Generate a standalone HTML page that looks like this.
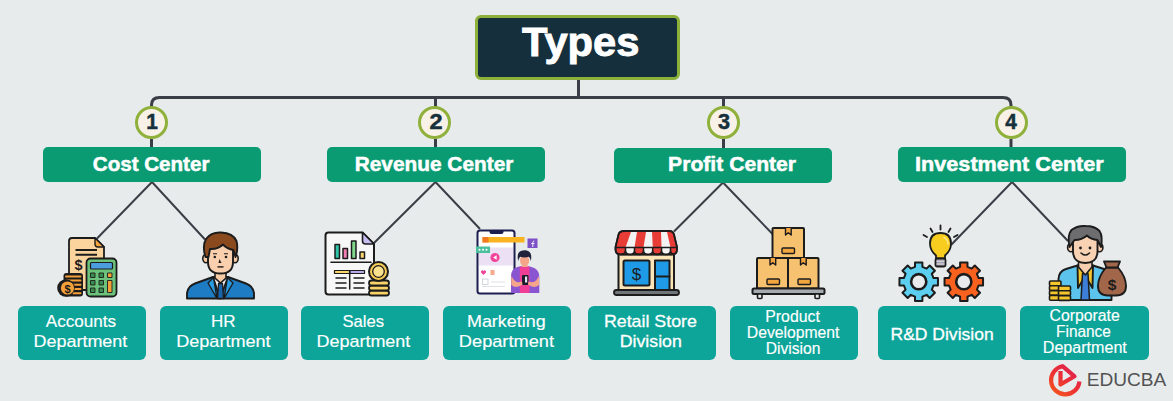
<!DOCTYPE html>
<html><head><meta charset="utf-8">
<style>
html,body{margin:0;padding:0;}
body{width:1173px;height:401px;overflow:hidden;background:#e8ebeb;position:relative;font-family:"Liberation Sans",sans-serif;}
.t{position:absolute;width:600px;text-align:center;white-space:nowrap;}
.t span{display:inline-block;transform-origin:50% 50%;}
#title{position:absolute;left:475px;top:15px;width:199px;height:59px;border:3px solid #8db03a;border-radius:6px;background:#15303c;}
.circ{position:absolute;width:27px;height:27px;border:3px solid #8fb13b;border-radius:50%;background:#f8f1e7;}
.bar{position:absolute;top:147px;height:35px;width:218px;background:#0b9b73;border-radius:5px;}
.box{position:absolute;top:306px;height:54px;width:128px;background:#0da59a;border-radius:6px;}
svg{position:absolute;left:0;top:0;overflow:visible;}

</style></head>
<body>
<svg width="1173" height="401" viewBox="0 0 1173 401">
  <g fill="none" stroke="#3a3e46" stroke-width="3">
    <line x1="578.5" y1="79" x2="578.5" y2="98"/>
    <path d="M151.5 107 V105 Q151.5 97.5 159.5 97.5 H1003 Q1011 97.5 1011 105 V107"/>
    <line x1="435.5" y1="97" x2="435.5" y2="107"/>
    <line x1="723.5" y1="97" x2="723.5" y2="107"/>
    <line x1="151.5" y1="139" x2="151.5" y2="148"/>
    <line x1="435.5" y1="139" x2="435.5" y2="148"/>
    <line x1="723.5" y1="139" x2="723.5" y2="149"/>
    <line x1="1011" y1="139" x2="1011" y2="148"/>
  </g>
  <g fill="none" stroke="#3a3e46" stroke-width="2">
    <polyline points="97,238.5 152,182 205,239.5"/>
    <polyline points="374,243 435.5,182 480,229"/>
    <polyline points="674,231.5 723,182.5 772.5,234"/>
    <polyline points="951,245 1012,182 1068,241"/>
  </g>
</svg>
<div id="title"></div>
<div class="circ" style="left:135px;top:106px;"></div>
<div class="circ" style="left:418px;top:106px;"></div>
<div class="circ" style="left:706.5px;top:106px;"></div>
<div class="circ" style="left:994.5px;top:106px;"></div>
<div class="bar" style="left:43px;"></div>
<div class="bar" style="left:327px;"></div>
<div class="bar" style="left:614px;top:148px;"></div>
<div class="bar" style="left:898px;width:228px;"></div>
<div class="box" style="left:18px;"></div>
<div class="box" style="left:160px;"></div>
<div class="box" style="left:301px;"></div>
<div class="box" style="left:443px;"></div>
<div class="box" style="left:588px;"></div>
<div class="box" style="left:730px;"></div>
<div class="box" style="left:878px;"></div>
<div class="box" style="left:1020px;width:129px;"></div>

<svg width="1173" height="401" viewBox="0 0 1173 401" style="pointer-events:none">
 <g stroke="#1c1c1c" stroke-linejoin="round">
  <path d="M72 238 H95 L104 247 V290 H69 V241 Q69 238 72 238 Z" fill="#fbd39c" stroke-width="1.8"/>
  <path d="M95 238 V244 Q95 247 98 247 H104 Z" fill="#f4a53d" stroke-width="1.4"/>
  <path d="M75.5 250 H97 M75.5 254.8 H97" stroke-width="2"/>
 </g>
 <text x="78.5" y="269.5" font-family="Liberation Sans" font-weight="bold" font-size="14.5" fill="#1c1c1c" text-anchor="middle">$</text>
 <g stroke="#1c1c1c" stroke-linejoin="round">
  <rect x="86.5" y="258.5" width="30" height="38" rx="4" fill="#6cc27a" stroke-width="1.8"/>
  <rect x="90.5" y="262.5" width="22" height="6.5" rx="1" fill="#4b9ddf" stroke-width="1.2"/>
  <g fill="#3b8b4f" stroke-width="0.9">
   <rect x="90.5" y="273" width="4.5" height="4.5"/><rect x="99" y="273" width="4.5" height="4.5"/>
   <rect x="90.5" y="280.5" width="4.5" height="4.5"/><rect x="99" y="280.5" width="4.5" height="4.5"/>
   <rect x="90.5" y="288" width="4.5" height="4.5"/><rect x="99" y="288" width="4.5" height="4.5"/>
  </g>
  <g fill="#f4a03a" stroke-width="0.9">
   <rect x="107.5" y="273" width="4.5" height="4.5"/>
   <rect x="107.5" y="280.5" width="4.5" height="12"/>
  </g>
 </g>
 <rect x="63.5" y="273" width="19.5" height="23.5" rx="3" fill="#1c1c1c"/>
 <g stroke="#f4a03a" stroke-width="2" stroke-linecap="round">
  <path d="M66 276.5 H80.5 M66 280.5 H80.5 M73 284.8 H80.5 M73 289 H80.5 M73 293.3 H80.5"/>
 </g>
 <circle cx="66" cy="288" r="8.8" fill="#1c1c1c"/>
 <circle cx="67.5" cy="288" r="6.6" fill="#f4a03a"/>
 <text x="67.5" y="292.5" font-family="Liberation Sans" font-weight="bold" font-size="11" fill="#1c1c1c" text-anchor="middle">$</text>
</svg>

<svg width="1173" height="401" viewBox="0 0 1173 401" style="pointer-events:none">
 <g stroke="#1c1c1c" stroke-width="1.9" stroke-linejoin="round" stroke-linecap="round">
  <!-- suit -->
  <path d="M187 298.5 V293 Q188 286 195 283.5 L213 277 H228 L246 283.5 Q253 286 254 293 V298.5 Z" fill="#1d7cc4"/>
  <path d="M213 277 L220 298.5 L228 277" fill="#f2f2f2"/>
  <path d="M213.5 277.5 L208 283 L217 298.5 Z M227.5 277.5 L233 283 L224 298.5 Z" fill="#2b9be0" stroke-width="1.4"/>
  <path d="M218.5 283.5 L222.5 283.5 L223.5 298.5 H217.5 Z" fill="#1766ad" stroke-width="1.3"/>
  <path d="M214.5 277.5 L220.5 283 L226.5 277.5" fill="#ffffff" stroke-width="1.3"/>
  <!-- neck -->
  <path d="M215 270 V278 L220.5 283 L226 278 V270 Z" fill="#f7caa6" stroke-width="1.6"/>
  <!-- ears -->
  <ellipse cx="206" cy="258.5" rx="3.2" ry="4.2" fill="#f7caa6" stroke-width="1.6"/>
  <ellipse cx="235" cy="258.5" rx="3.2" ry="4.2" fill="#f7caa6" stroke-width="1.6"/>
  <!-- face -->
  <path d="M208 244 V262 Q208 273.5 220.5 273.5 Q233 273.5 233 262 V244 Z" fill="#f9cfae"/>
  <!-- hair -->
  <path d="M205.5 257 Q202 246 206 239 Q211 232 221 232.5 Q233 233 236.5 241 Q238.5 249 235.5 257 L233.5 250 Q227 249 223 244.5 Q218 249.5 210 249 L208.5 257 Z" fill="#8a4a1e"/>
 </g>
 <g fill="#1c1c1c">
  <circle cx="214.8" cy="257" r="1.3"/><circle cx="226" cy="257" r="1.3"/>
  <path d="M213 253.3 H217 V254.3 H213 Z M224 253.3 H228 V254.3 H224 Z"/>
  <path d="M219.5 259 L221.5 263 H218.5 Z"/>
  <rect x="217.5" y="266.2" width="6" height="1.4"/>
 </g>
</svg>

<svg width="1173" height="401" viewBox="0 0 1173 401" style="pointer-events:none">
 <g stroke="#1c1c1c" stroke-linejoin="round" stroke-linecap="round">
  <path d="M328.5 232.5 H362.5 L374 244 V291.5 Q374 294.5 371 294.5 H328.5 Q325.5 294.5 325.5 291.5 V235.5 Q325.5 232.5 328.5 232.5 Z" fill="#f7f7f7" stroke-width="2"/>
  <path d="M362.5 232.5 V241 Q362.5 244 365.5 244 H374 Z" fill="#c6bdf0" stroke-width="1.6"/>
  <g stroke-width="1.5">
   <rect x="335" y="244.5" width="4.5" height="14" fill="#30c3a8"/>
   <rect x="343" y="248.5" width="4.5" height="10" fill="#f27db3"/>
   <rect x="351.5" y="241" width="4.5" height="17.5" fill="#80d78c"/>
   <rect x="360" y="252" width="4.5" height="6.5" fill="#f8d66c"/>
  </g>
  <path d="M331 262.3 H371" stroke-width="1.6"/>
  <rect x="334.5" y="270.5" width="15" height="3" fill="#f8d66c" stroke-width="1.2"/>
  <rect x="350" y="270.5" width="14.5" height="3" fill="#b9a9ea" stroke-width="1.2"/>
  <path d="M349.7 273.5 V289 M336 278 H346 M336 283 H346 M336 288 H346 M354 278 H364 M354 283 H364 M354 288 H364" stroke-width="1.5"/>
  <g stroke-width="1.8">
   <rect x="369" y="290.5" width="20" height="5" rx="2.5" fill="#f8d266"/>
   <rect x="369" y="285.5" width="20" height="5" rx="2.5" fill="#f8d266"/>
   <rect x="369" y="280.5" width="20" height="5" rx="2.5" fill="#f8d266"/>
  </g>
  <circle cx="378.5" cy="271.5" r="9.5" fill="#f8cc55" stroke-width="2"/>
  <circle cx="378.5" cy="271.5" r="5.8" fill="#fbe08e" stroke-width="1.3"/>
 </g>
</svg>

<svg width="1173" height="401" viewBox="0 0 1173 401" style="pointer-events:none">
 <!-- phone -->
 <rect x="477.5" y="230.5" width="37" height="63" rx="2.5" fill="#ffffff" stroke="#1b1e4e" stroke-width="2"/>
 <path d="M489.5 230 H503.5 V232 Q503.5 234 501.5 234 H491.5 Q489.5 234 489.5 232 Z" fill="#1b1e4e"/>
 <rect x="479" y="247.5" width="34" height="18" fill="#ece0f5"/>
 <circle cx="495" cy="257.5" r="4.6" fill="#f0459b"/>
 <path d="M493.2 257.5 L496.6 255.3 V259.7 Z" fill="#fff"/>
 <rect x="482.5" y="237" width="42" height="5.5" fill="#f9b41f"/>
 <rect x="482.5" y="237" width="6" height="5.5" fill="#f47a21"/>
 <rect x="527.5" y="238.5" width="10" height="9.5" fill="#7c50c7"/>
 <path d="M532.8 247 V242.5 Q532.8 241 534.3 241 M531.3 243.5 H534.5" stroke="#fff" stroke-width="0.9" fill="none"/>
 <rect x="476" y="246.5" width="14" height="6.5" fill="#4cbf9e"/>
 <circle cx="479.5" cy="249.8" r="1" fill="#fff"/><circle cx="483" cy="249.8" r="1" fill="#fff"/><circle cx="486.5" cy="249.8" r="1" fill="#fff"/>
 <path d="M483.5 275 L481 272.5 Q480.5 270.5 482.3 270.3 Q483.3 270.3 483.5 271.3 Q483.7 270.3 484.7 270.3 Q486.5 270.5 486 272.5 Z" fill="#f0459b"/>
 <rect x="490.5" y="270" width="4" height="5" fill="#f7a98c"/>
 <rect x="482.5" y="279" width="5.5" height="5.5" fill="none" stroke="#c9cbd6" stroke-width="0.8"/>
 <path d="M491 282 H505 M482 286.5 H505" stroke="#d8d9e2" stroke-width="0.8"/>
 <!-- person -->
 <path d="M511 293 V276.5 Q511 268.5 517.5 267 L520.5 266.3 H528.5 L531.5 267 Q539 268.5 539.3 276.5 V293 Z" fill="#8a55d1"/>
 <path d="M519.8 266.5 H529.5 V293 H519.8 Z" fill="#f03e97"/>
 <rect x="522" y="262.5" width="5.5" height="4.5" fill="#f5a68a"/>
 <ellipse cx="524.6" cy="260.5" rx="4.6" ry="5.8" fill="#f5a68a"/>
 <path d="M518.2 261 Q516.3 252.5 521.5 250.8 Q525.5 249.6 529 251.5 Q532.3 253.8 530.8 261 Q530.2 257.5 528.8 256.8 Q524.5 258 520.2 256.8 Q518.8 258 518.2 261 Z" fill="#22223a"/>
 <rect x="522" y="275" width="6.5" height="10" rx="1" fill="#1b1b2b"/>
 <rect x="525" y="276.5" width="2.2" height="6" fill="#e8e4f0"/>
 <path d="M511.3 276 L511.3 285 Q516 289 522.5 284.5 L522 281.5 Q517 283.5 514 280 Z" fill="#f5a68a"/>
 <path d="M539 276 L539 285 Q534 289 528 284.5 L528.5 281.5 Q533.5 283.5 536.5 280 Z" fill="#f5a68a"/>
</svg>

<svg width="1173" height="401" viewBox="0 0 1173 401" style="pointer-events:none">
 <g stroke="#1c1c1c" stroke-linejoin="round" stroke-linecap="round">
  <rect x="618.5" y="252" width="55.5" height="38.5" fill="#fbe5b8" stroke-width="2"/>
  <rect x="623.5" y="260.5" width="26" height="25" rx="1.5" fill="#1e9ae6" stroke-width="2"/>
  <rect x="655" y="260.5" width="14.5" height="30" fill="#1e9ae6" stroke-width="2"/>
  <path d="M655 276.5 H669.5" stroke-width="2"/>
  <rect x="614" y="290" width="65" height="5" rx="2.5" fill="#707579" stroke-width="1.8"/>
 </g>
 <text x="636.5" y="279.5" font-family="Liberation Sans" font-size="17" fill="#1c1c1c" text-anchor="middle">$</text>
 <!-- awning -->
 <g stroke="#1c1c1c" stroke-width="1.8" stroke-linejoin="round">
  <path d="M624 231 H669.5 Q673 231 674 234.5 L677 247 V249.5 Q677 254.5 672 254.5 H620.5 Q615.5 254.5 615.5 249.5 V247 L618.5 234.5 Q619.5 231 624 231 Z" fill="#e83c36"/>
 </g>
 <g fill="#f3f3f3">
  <path d="M631 232 H637 L634.5 247.5 H625.5 Z"/>
  <path d="M646 232 H652 L652.8 247.5 H643.5 Z"/>
  <path d="M661 232 H667 L670.5 247.5 H661.5 Z"/>
  <path d="M625.6 247.5 H634.5 V249.5 Q634.5 254 630 254 Q625.6 254 625.6 249.5 Z"/>
  <path d="M643.5 247.5 H652.8 V249.5 Q652.8 254 648.2 254 Q643.5 254 643.5 249.5 Z"/>
  <path d="M661.5 247.5 H670.5 V249.5 Q670.5 254 666 254 Q661.5 254 661.5 249.5 Z"/>
 </g>
 <g fill="none" stroke="#1c1c1c" stroke-width="1.5">
  <path d="M624 231 H669.5 Q673 231 674 234.5 L677 247 V249.5 Q677 254.5 672 254.5 H620.5 Q615.5 254.5 615.5 249.5 V247 L618.5 234.5 Q619.5 231 624 231 Z"/>
  <path d="M615.5 247.5 H677"/>
  <path d="M625.5 247.5 V249.5 Q625.5 254.5 620.5 254.5 M634.5 247.5 V250 Q634.5 254.5 630 254.5 Q625.5 254.5 625.5 250 M643.5 247.5 V250 Q643.5 254.5 639 254.5 Q634.5 254.5 634.5 250 M652.7 247.5 V250 Q652.7 254.5 648.1 254.5 Q643.5 254.5 643.5 250 M661.5 247.5 V250 Q661.5 254.5 657.1 254.5 Q652.7 254.5 652.7 250 M670.5 247.5 V250 Q670.5 254.5 666 254.5 Q661.5 254.5 661.5 250 M670.5 250 Q670.5 254.5 675 254.5"/>
 </g>
</svg>

<svg width="1173" height="401" viewBox="0 0 1173 401" style="pointer-events:none">
 <g stroke="#1c1c1c" stroke-width="2" stroke-linejoin="round">
  <rect x="772.5" y="228" width="31.5" height="30" rx="1" fill="#f7c26f"/>
  <rect x="757" y="258" width="31" height="30.5" rx="1" fill="#f7c26f"/>
  <rect x="788" y="258" width="30.5" height="30.5" rx="1" fill="#f7c26f"/>
  <rect x="752.5" y="288.5" width="72" height="5.5" rx="1.5" fill="#a6abb0"/>
  <rect x="757.5" y="294" width="4.5" height="4.5" rx="1" fill="#e8ebeb" stroke-width="1.6"/>
  <rect x="815" y="294" width="4.5" height="4.5" rx="1" fill="#e8ebeb" stroke-width="1.6"/>
 </g>
 <g stroke="#1c1c1c" stroke-width="1.4" stroke-linejoin="round">
  <path d="M785.5 228 V235 L788.3 232.8 L791.2 235 V228" fill="#f3a640"/>
  <path d="M770 258 V265 L772.8 262.8 L775.7 265 V258" fill="#f3a640"/>
  <path d="M800.5 258 V265 L803.3 262.8 L806.2 265 V258" fill="#f3a640"/>
  <rect x="782" y="248" width="12.5" height="5.5" rx="1" fill="#f3a640"/>
  <rect x="767" y="279" width="12.5" height="5.5" rx="1" fill="#f3a640"/>
  <rect x="798" y="279" width="12.5" height="5.5" rx="1" fill="#f3a640"/>
 </g>
</svg>

<svg width="1173" height="401" viewBox="0 0 1173 401" style="pointer-events:none">
 <g stroke="#1c1c1c" stroke-width="2" stroke-linejoin="round">
  <path d="M915.01 266.85 L915.01 262.45 L922.39 262.45 L922.39 266.85 L926.59 268.59 L929.70 265.48 L934.92 270.70 L931.81 273.81 L933.55 278.01 L937.95 278.01 L937.95 285.39 L933.55 285.39 L931.81 289.59 L934.92 292.70 L929.70 297.92 L926.59 294.81 L922.39 296.55 L922.39 300.95 L915.01 300.95 L915.01 296.55 L910.81 294.81 L907.70 297.92 L902.48 292.70 L905.59 289.59 L903.85 285.39 L899.45 285.39 L899.45 278.01 L903.85 278.01 L905.59 273.81 L902.48 270.70 L907.70 265.48 L910.81 268.59 Z" fill="#5ccff0"/>
  <path d="M960.11 266.85 L960.11 262.45 L967.49 262.45 L967.49 266.85 L971.69 268.59 L974.80 265.48 L980.02 270.70 L976.91 273.81 L978.65 278.01 L983.05 278.01 L983.05 285.39 L978.65 285.39 L976.91 289.59 L980.02 292.70 L974.80 297.92 L971.69 294.81 L967.49 296.55 L967.49 300.95 L960.11 300.95 L960.11 296.55 L955.91 294.81 L952.80 297.92 L947.58 292.70 L950.69 289.59 L948.95 285.39 L944.55 285.39 L944.55 278.01 L948.95 278.01 L950.69 273.81 L947.58 270.70 L952.80 265.48 L955.91 268.59 Z" fill="#f8621e"/>
 </g>
 <circle cx="918.7" cy="281.7" r="7.6" fill="#e8ebeb" stroke="#1c1c1c" stroke-width="2.6"/>
 <circle cx="963.8" cy="281.7" r="7.6" fill="#e8ebeb" stroke="#1c1c1c" stroke-width="2.6"/>
 <g stroke="#1c1c1c" stroke-width="1.8" stroke-linecap="round" fill="none">
  <path d="M940.5 225.5 V229.5 M930.5 228.5 L932.5 232 M950.5 228.5 L948.5 232 M923.5 235 L927 237 M957.5 235 L954 237"/>
 </g>
 <g stroke="#1c1c1c" stroke-width="1.8" stroke-linejoin="round">
  <path d="M936 258.5 V255.5 Q930 250.5 930 243.5 Q930 233 940.5 233 Q951 233 951 243.5 Q951 250.5 945 255.5 V258.5 Z" fill="#f9cd20"/>
  <rect x="935.5" y="258.5" width="10" height="8" rx="1.5" fill="#a29fab"/>
 </g>
 <path d="M936.5 261.3 H944.5 M936.5 264 H944.5" stroke="#e4e2ea" stroke-width="1.1"/>
 <path d="M944 237.5 Q948 239.5 948 244" stroke="#fde57e" stroke-width="1.6" fill="none" stroke-linecap="round"/>
</svg>

<svg width="1173" height="401" viewBox="0 0 1173 401" style="pointer-events:none">
 <g stroke="#1c1c1c" stroke-width="1.9" stroke-linejoin="round" stroke-linecap="round">
  <!-- suit -->
  <path d="M1058.5 300 V279 Q1059 271 1066 269 L1077.5 265.5 H1093 L1104 269 Q1111 271 1111.5 279 V300 Z" fill="#5cc4ec"/>
  <path d="M1077.5 265.5 L1078 288 L1085.3 276 L1092.5 288 L1093 265.5 Z" fill="#f5c62b"/>
  <path d="M1082.5 273.5 H1088 L1089.5 300 H1081 Z" fill="#3c7ed8" stroke-width="1.5"/>
  <!-- neck -->
  <path d="M1078.5 259 V267 L1085.3 275 L1092 267 V259 Z" fill="#f8cfae" stroke-width="1.6"/>
  <!-- ears -->
  <ellipse cx="1071" cy="247.5" rx="3.4" ry="4.3" fill="#f8cfae" stroke-width="1.6"/>
  <ellipse cx="1099.5" cy="247.5" rx="3.4" ry="4.3" fill="#f8cfae" stroke-width="1.6"/>
  <!-- face -->
  <path d="M1073 236 V251 Q1073 263 1085.3 263 Q1097.5 263 1097.5 251 V236 Z" fill="#f9d2b4"/>
  <!-- hair -->
  <path d="M1069.5 247 Q1067 235 1071.5 230 Q1077 225.5 1085.5 226 Q1095 226 1099.5 231 Q1103 236 1101 247 L1097.5 240 Q1091 239.5 1087 235.5 Q1082 240 1074.5 240 Z" fill="#6d6d6f"/>
 </g>
 <g fill="#1c1c1c">
  <circle cx="1080.5" cy="248" r="1.4"/><circle cx="1090" cy="248" r="1.4"/>
 </g>
 <path d="M1081 253 Q1085.3 257 1089.5 253" stroke="#1c1c1c" stroke-width="1.6" fill="none" stroke-linecap="round"/>
 <!-- coins -->
 <g stroke="#1c1c1c" stroke-width="1.6" stroke-linejoin="round">
  <rect x="1049.5" y="281" width="11.5" height="4.8" rx="1" fill="#f5c62b"/>
  <rect x="1049.5" y="285.8" width="11.5" height="4.8" rx="1" fill="#f5c62b"/>
  <rect x="1049.5" y="290.6" width="11.5" height="4.8" rx="1" fill="#f5c62b"/>
  <rect x="1049.5" y="295.4" width="11.5" height="4.8" rx="1" fill="#f5c62b"/>
  <rect x="1058.5" y="286" width="12" height="4.8" rx="1" fill="#f5c62b"/>
  <rect x="1058.5" y="290.8" width="12" height="4.8" rx="1" fill="#f5c62b"/>
  <rect x="1058.5" y="295.6" width="12" height="4.8" rx="1" fill="#f5c62b"/>
 </g>
 <!-- bag -->
 <g stroke="#1c1c1c" stroke-width="1.9" stroke-linejoin="round">
  <path d="M1106 267.5 Q1098 277 1098 286 Q1098 295.5 1108 295.5 H1116 Q1126 295.5 1126 286 Q1126 277 1118 267.5 Z" fill="#a2674b"/>
  <path d="M1104 261.5 H1120 L1117.5 267.5 H1106.5 Z" fill="#a2674b"/>
 </g>
 <text x="1112" y="289.5" font-family="Liberation Sans" font-weight="bold" font-size="15.5" fill="#1c1c1c" text-anchor="middle">$</text>
</svg>

<svg width="1173" height="401" viewBox="0 0 1173 401" style="pointer-events:none">
 <defs>
  <linearGradient id="lg" x1="1078" y1="364" x2="1052" y2="396" gradientUnits="userSpaceOnUse">
   <stop offset="0" stop-color="#d81f5a"/>
   <stop offset="0.5" stop-color="#ec2f35"/>
   <stop offset="1" stop-color="#f65a1c"/>
  </linearGradient>
 </defs>
 <path d="M1079.4 381.5 A14.2 14.2 0 1 1 1062.5 366.2 L1074.5 376.3 L1060.5 384.5 V371" fill="none" stroke="url(#lg)" stroke-width="4.2" stroke-linejoin="round"/>
 
</svg>

<div class="t" id="t0" style="left:280.50px;top:21.89px;font-size:41px;line-height:41px;font-weight:bold;color:#fff;-webkit-text-stroke:0.9px #fff;"><span style="transform:scaleX(1.0174)">Types</span></div>
<div class="t" id="t1" style="left:-148.10px;top:111.50px;font-size:21.5px;line-height:21.5px;font-weight:bold;color:#16303c;-webkit-text-stroke:0.5px #16303c;"><span style="transform:scaleX(0.9719)">1</span></div>
<div class="t" id="t2" style="left:136.30px;top:111.90px;font-size:21.5px;line-height:21.5px;font-weight:bold;color:#16303c;-webkit-text-stroke:0.5px #16303c;"><span style="transform:scaleX(1.0958)">2</span></div>
<div class="t" id="t3" style="left:423.70px;top:111.80px;font-size:21.5px;line-height:21.5px;font-weight:bold;color:#16303c;-webkit-text-stroke:0.5px #16303c;"><span style="transform:scaleX(1.0063)">3</span></div>
<div class="t" id="t4" style="left:711.30px;top:111.80px;font-size:21.5px;line-height:21.5px;font-weight:bold;color:#16303c;-webkit-text-stroke:0.5px #16303c;"><span style="transform:scaleX(0.9679)">4</span></div>
<div class="t" id="t5" style="left:-149.00px;top:153.65px;font-size:20.5px;line-height:20.5px;font-weight:bold;color:#fff;-webkit-text-stroke:0.5px #fff;"><span style="transform:scaleX(1.0037)">Cost Center</span></div>
<div class="t" id="t6" style="left:134.30px;top:153.85px;font-size:20.5px;line-height:20.5px;font-weight:bold;color:#fff;-webkit-text-stroke:0.5px #fff;"><span style="transform:scaleX(1.0170)">Revenue Center</span></div>
<div class="t" id="t7" style="left:432.10px;top:153.75px;font-size:20.5px;line-height:20.5px;font-weight:bold;color:#fff;-webkit-text-stroke:0.5px #fff;"><span style="transform:scaleX(1.0313)">Profit Center</span></div>
<div class="t" id="t8" style="left:709.90px;top:153.65px;font-size:20.5px;line-height:20.5px;font-weight:bold;color:#fff;-webkit-text-stroke:0.5px #fff;"><span style="transform:scaleX(1.0549)">Investment Center</span></div>
<div class="t" id="t9" style="left:-219.20px;top:313.41px;font-size:17px;line-height:17px;color:#fff;-webkit-text-stroke:0.15px #fff;"><span style="transform:scaleX(1.0069)">Accounts</span></div>
<div class="t" id="t10" style="left:-219.30px;top:332.61px;font-size:17px;line-height:17px;color:#fff;-webkit-text-stroke:0.15px #fff;"><span style="transform:scaleX(1.0568)">Department</span></div>
<div class="t" id="t11" style="left:-76.70px;top:313.41px;font-size:17px;line-height:17px;color:#fff;-webkit-text-stroke:0.15px #fff;"><span style="transform:scaleX(1.0003)">HR</span></div>
<div class="t" id="t12" style="left:-76.70px;top:332.61px;font-size:17px;line-height:17px;color:#fff;-webkit-text-stroke:0.15px #fff;"><span style="transform:scaleX(1.0635)">Department</span></div>
<div class="t" id="t13" style="left:62.80px;top:313.11px;font-size:17px;line-height:17px;color:#fff;-webkit-text-stroke:0.15px #fff;"><span style="transform:scaleX(0.9792)">Sales</span></div>
<div class="t" id="t14" style="left:63.30px;top:332.61px;font-size:17px;line-height:17px;color:#fff;-webkit-text-stroke:0.15px #fff;"><span style="transform:scaleX(1.0568)">Department</span></div>
<div class="t" id="t15" style="left:206.80px;top:313.41px;font-size:17px;line-height:17px;color:#fff;-webkit-text-stroke:0.15px #fff;"><span style="transform:scaleX(1.0550)">Marketing</span></div>
<div class="t" id="t16" style="left:206.40px;top:332.61px;font-size:17px;line-height:17px;color:#fff;-webkit-text-stroke:0.15px #fff;"><span style="transform:scaleX(1.0707)">Department</span></div>
<div class="t" id="t17" style="left:350.30px;top:313.11px;font-size:17px;line-height:17px;color:#fff;-webkit-text-stroke:0.3px #fff;"><span style="transform:scaleX(1.0465)">Retail Store</span></div>
<div class="t" id="t18" style="left:351.20px;top:332.61px;font-size:17px;line-height:17px;color:#fff;-webkit-text-stroke:0.3px #fff;"><span style="transform:scaleX(1.0427)">Division</span></div>
<div class="t" id="t19" style="left:492.80px;top:308.86px;font-size:16px;line-height:16px;color:#fff;-webkit-text-stroke:0.15px #fff;"><span style="transform:scaleX(0.9900)">Product</span></div>
<div class="t" id="t20" style="left:492.70px;top:325.46px;font-size:16px;line-height:16px;color:#fff;-webkit-text-stroke:0.15px #fff;"><span style="transform:scaleX(0.9822)">Development</span></div>
<div class="t" id="t21" style="left:493.20px;top:341.16px;font-size:16px;line-height:16px;color:#fff;-webkit-text-stroke:0.15px #fff;"><span style="transform:scaleX(0.9759)">Division</span></div>
<div class="t" id="t22" style="left:642.50px;top:325.91px;font-size:17px;line-height:17px;color:#fff;-webkit-text-stroke:0.3px #fff;"><span style="transform:scaleX(1.0304)">R&amp;D Division</span></div>
<div class="t" id="t23" style="left:784.70px;top:307.56px;font-size:16px;line-height:16px;color:#fff;-webkit-text-stroke:0.15px #fff;"><span style="transform:scaleX(0.9864)">Corporate</span></div>
<div class="t" id="t24" style="left:783.90px;top:324.46px;font-size:16px;line-height:16px;color:#fff;-webkit-text-stroke:0.15px #fff;"><span style="transform:scaleX(0.9624)">Finance</span></div>
<div class="t" id="t25" style="left:784.50px;top:340.26px;font-size:16px;line-height:16px;color:#fff;-webkit-text-stroke:0.15px #fff;"><span style="transform:scaleX(1.0049)">Department</span></div>
<div class="t" id="t26" style="left:826.10px;top:372.29px;font-size:17.5px;line-height:17.5px;color:#525255;"><span style="transform:scaleX(1.0921)">EDUCBA</span></div>
</body></html>
